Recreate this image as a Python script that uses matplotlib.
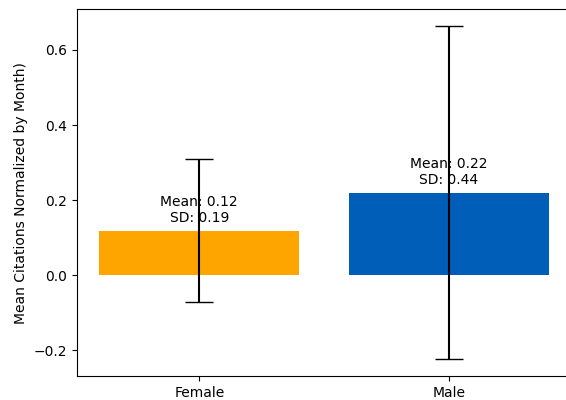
import matplotlib
matplotlib.use("Agg")
import matplotlib.pyplot as plt

categories = ["Female", "Male"]
means = [0.119, 0.22]
sds = [0.191, 0.444]
colors = ["#FFA500", "#005EB8"]

fig = plt.figure(figsize=(5.66, 4.0), dpi=100)
ax = fig.add_axes([77/566, 24/400, (571-77)/566, (376-9.3)/400])
x = list(range(len(categories)))
ax.bar(x, means, yerr=sds, color=colors, capsize=10, ecolor="black")
ax.set_xticks(x)
ax.set_xticklabels(categories)
for xi, m, s in zip(x, means, sds):
    ax.text(xi, m + 0.015, f"Mean: {m:.2f}\nSD: {s:.2f}", ha="center", va="bottom", fontsize=10)
ax.set_ylabel("Mean Citations Normalized by Month)")
fig.savefig("out.png", dpi=100)
